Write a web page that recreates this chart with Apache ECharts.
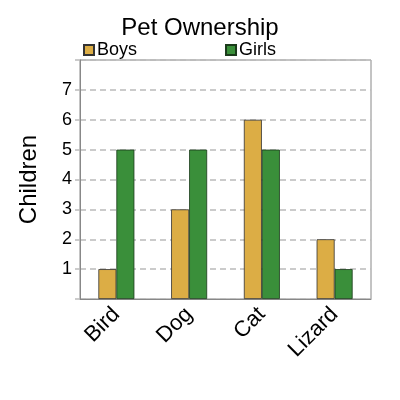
<!DOCTYPE html>
<html>
<head>
    <meta charset="UTF-8">
    <title>Pet Ownership</title>
    <style>
        html, body { margin: 0; padding: 0; background: #fff; }
        #main { width: 400px; height: 400px; }
    </style>
</head>
<body>
    <div id="main"></div>
    <script src="https://cdn.jsdelivr.net/npm/echarts@6/dist/echarts.min.js"></script>
    <script type="text/javascript">
        // data
        let pets = ['Bird', 'Dog', 'Cat', 'Lizard'];
        let boys = [1, 3, 6, 2];
        let girls = [5, 5, 5, 1];
        let seriesNames = ['Boys', 'Girls'];

        let myChart = echarts.init(document.getElementById('main'));
        let font = 'Liberation Sans, Arial, sans-serif';

        myChart.setOption({
            animation: false,
            title: {
                text: 'Pet Ownership',
                left: 'center',
                top: 11,
                textStyle: { fontFamily: font, fontSize: 24, fontWeight: 'normal', color: '#000' }
            },
            legend: {
                data: seriesNames,
                left: 78,
                top: 36,
                itemWidth: 10,
                itemHeight: 10,
                itemGap: 88,
                icon: 'rect',
                textStyle: { fontFamily: font, fontSize: 18, color: '#000', padding: [0, 0, 0, -2] }
            },
            grid: {
                left: 80,
                right: 29,
                top: 60,
                bottom: 101,
                show: true,
                borderColor: '#888',
                borderWidth: 1
            },
            xAxis: {
                type: 'category',
                data: pets,
                axisTick: { show: false },
                axisLine: { lineStyle: { color: '#888' } },
                axisLabel: {
                    rotate: 45,
                    fontFamily: font,
                    fontSize: 22,
                    color: '#000',
                    margin: 12
                }
            },
            yAxis: {
                type: 'value',
                min: 0,
                max: 8,
                interval: 1,
                name: 'Children',
                nameLocation: 'middle',
                nameGap: 39,
                nameTextStyle: { fontFamily: font, fontSize: 24, color: '#000' },
                axisLine: { show: true, lineStyle: { color: '#888' } },
                axisTick: { show: true, length: 5, lineStyle: { color: '#bbb', width: 1.5 } },
                axisLabel: {
                    fontFamily: font,
                    fontSize: 18,
                    color: '#000',
                    margin: 8,
                    formatter: function (v) { return (v === 0 || v === 8) ? '' : v; }
                },
                splitLine: { lineStyle: { color: '#bbb', type: [6, 4], width: 1.5 } }
            },
            series: [{
                name: seriesNames[0],
                type: 'bar',
                data: boys,
                barWidth: 18,
                barGap: '0%',
                itemStyle: { color: '#dcad45', borderColor: '#333', borderWidth: 0.8 }
            }, {
                name: seriesNames[1],
                type: 'bar',
                data: girls,
                barWidth: 18,
                itemStyle: { color: '#3a8f3a', borderColor: '#1a3a1a', borderWidth: 0.8 }
            }]
        });
    </script>
</body>
</html>
